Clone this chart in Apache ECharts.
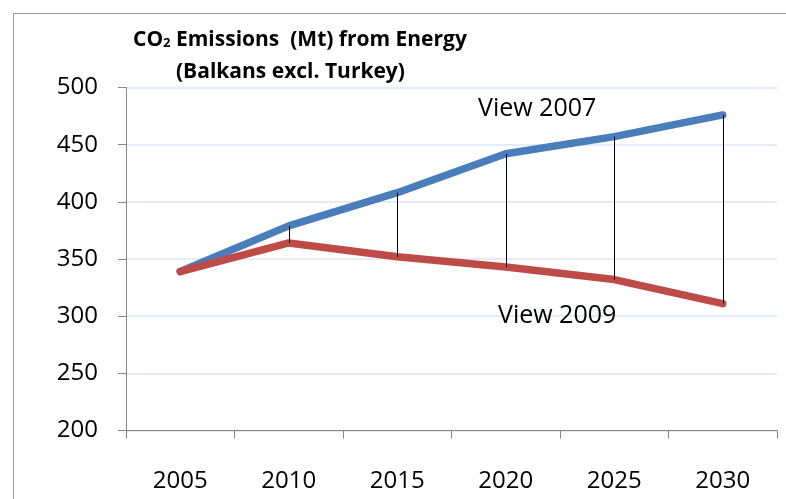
<!DOCTYPE html>
<html>
<head>
<meta charset="utf-8">
<script src="https://cdn.jsdelivr.net/npm/echarts@6/dist/echarts.min.js"></script>
<style>
html,body{margin:0;padding:0;background:#fff;}
#main{width:786px;height:499px;}
</style>
</head>
<body>
<div id="main"></div>
<script>
// chart values
let years=["2005","2010","2015","2020","2025","2030"];
let view2007=[339,379,408,442,457,476];
let view2009=[339,364,352,343,332,311];
let yTicks={min:200,max:500,step:50};

let font="'Open Sans'";
let myChart=echarts.init(document.querySelector("#main"));
let option={
	animation:false,
	textStyle:{fontFamily:font},
	title:[{
		text:"{a|CO}{s|2}{a| Emissions  (Mt) from Energy}",
		left:128,
		top:25,
		textStyle:{
			rich:{
				a:{fontFamily:font,fontWeight:"bold",fontSize:21,color:"#000"},
				s:{fontFamily:font,fontWeight:"bold",fontSize:13,color:"#000",padding:[5,0,0,0]}
			}
		}
	},{
		text:"(Balkans excl. Turkey)",
		left:171,
		top:57,
		textStyle:{fontFamily:font,fontWeight:"bold",fontSize:21,color:"#000"}
	}],
	graphic:[{
		type:"rect",
		silent:true,
		shape:{x:13.5,y:13.5,width:800,height:520},
		style:{fill:"none",stroke:"#9a9a9a",lineWidth:1}
	},{
		type:"text",
		left:478,
		top:96,
		z:10,
		style:{text:"View 2007",font:"25px "+font,fill:"#000"}
	},{
		type:"text",
		left:498,
		top:303,
		z:10,
		style:{text:"View 2009",font:"25px "+font,fill:"#000"}
	}],
	grid:{
		left:126,
		right:9,
		top:87.5,
		bottom:68.5
	},
	xAxis:{
		type:"category",
		data:years,
		boundaryGap:true,
		axisLine:{lineStyle:{color:"#868686",width:1}},
		axisTick:{show:true,length:8,lineStyle:{color:"#868686"}},
		axisLabel:{color:"#000",fontSize:24,margin:39,fontFamily:font}
	},
	yAxis:{
		type:"value",
		min:yTicks.min,
		max:yTicks.max,
		interval:yTicks.step,
		axisLine:{show:true,lineStyle:{color:"#868686",width:1}},
		axisTick:{show:true,length:8,lineStyle:{color:"#868686"}},
		axisLabel:{color:"#000",fontSize:24,margin:28,fontFamily:font},
		splitLine:{lineStyle:{color:"#dce6f2",width:1.5}}
	},
	series:[{
		name:"View 2007",
		type:"line",
		data:view2007,
		symbol:"none",
		lineStyle:{color:"#4a7ebb",width:7.5,cap:"round",join:"round"},
		z:2
	},{
		name:"View 2009",
		type:"line",
		data:view2009,
		symbol:"none",
		lineStyle:{color:"#be4b48",width:7.5,cap:"round",join:"round"},
		z:3
	},{
		name:"gap",
		type:"custom",
		data:years.map(function(y,i){return [i,view2007[i],view2009[i]];}),
		z:5,
		renderItem:function(params,api){
			let top=api.coord([api.value(0),api.value(1)]);
			let bot=api.coord([api.value(0),api.value(2)]);
			return {
				type:"line",
				shape:{x1:Math.round(top[0])+0.5,y1:top[1],x2:Math.round(bot[0])+0.5,y2:bot[1]},
				style:{stroke:"#000",lineWidth:1}
			};
		}
	}]
};
myChart.setOption(option);
</script>
</body>
</html>
